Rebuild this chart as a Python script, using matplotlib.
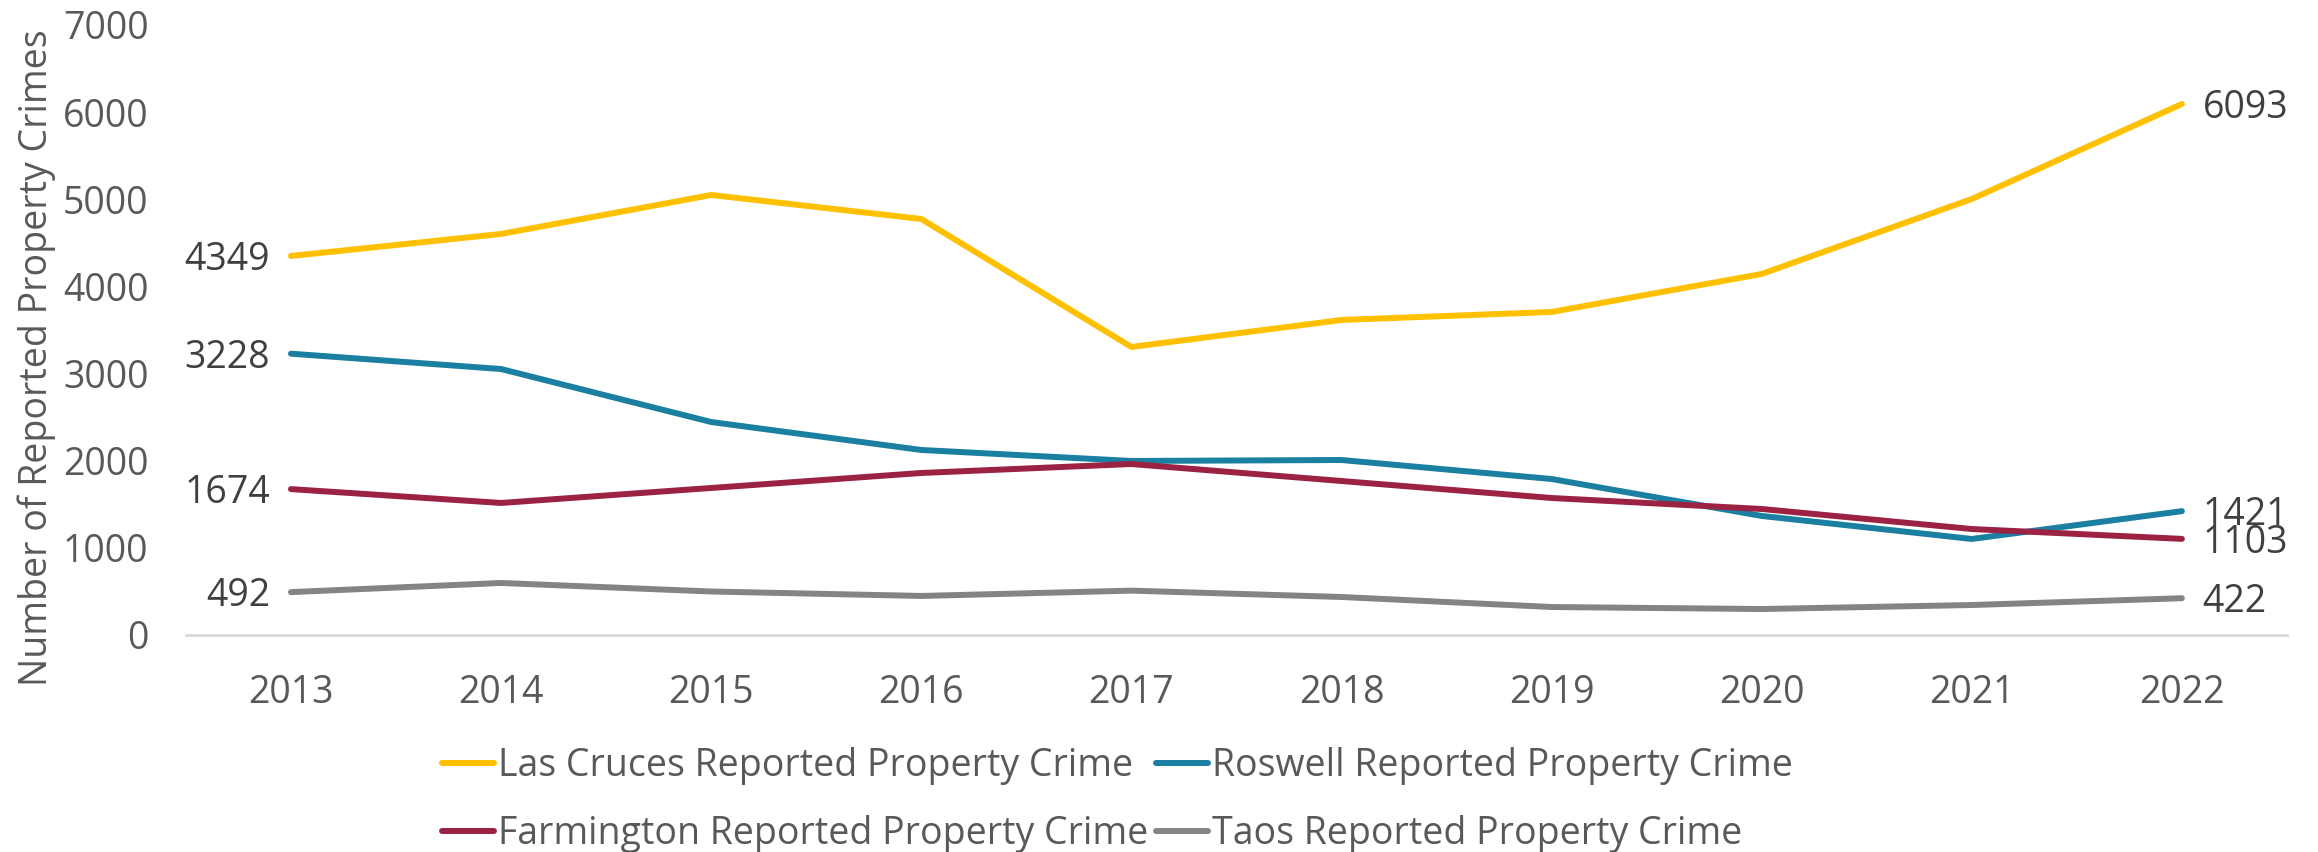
import matplotlib
matplotlib.use("Agg")
import matplotlib.pyplot as plt

plt.rcParams["font.family"] = ["Open Sans", "DejaVu Sans"]

years = ["2013", "2014", "2015", "2016", "2017", "2018", "2019", "2020", "2021", "2022"]
las_cruces = [4349, 4602, 5049, 4774, 3305, 3615, 3707, 4143, 5003, 6093]
roswell = [3228, 3052, 2444, 2123, 1997, 2008, 1790, 1366, 1102, 1421]
farmington = [1674, 1515, 1687, 1859, 1962, 1767, 1572, 1446, 1216, 1103]
taos = [492, 597, 499, 448, 509, 436, 321, 298, 344, 422]

series = [
    ("Las Cruces Reported Property Crime", las_cruces, "#FFC000"),
    ("Roswell Reported Property Crime", roswell, "#1A7FA0"),
    ("Farmington Reported Property Crime", farmington, "#9B2243"),
    ("Taos Reported Property Crime", taos, "#848484"),
]

TICK = "#595959"
LABEL = "#404040"

fig = plt.figure(figsize=(23.18, 8.52), dpi=100)
ax = fig.add_axes([0.0802, 0.2547, 0.9064, 0.716])
x = list(range(len(years)))
lines = []
for name, vals, col in series:
    ln, = ax.plot(x, vals, color=col, lw=4.3, label=name, solid_capstyle="round", solid_joinstyle="round")
    lines.append(ln)
    # end labels: first and last value of each line
    ax.annotate(str(vals[0]), (x[0], vals[0]), xytext=(-15, -3), textcoords="offset points",
                ha="right", va="center", fontsize=27, color=LABEL)
    ax.annotate(str(vals[-1]), (x[-1], vals[-1]), xytext=(15, -3), textcoords="offset points",
                ha="left", va="center", fontsize=27, color=LABEL)

ax.set_xlim(-0.5, len(years) - 0.5)
ax.set_ylim(0, 7000)
ax.set_xticks(x)
ax.set_xticklabels(years)
ax.set_yticks(range(0, 7001, 1000))
ax.tick_params(axis="both", length=0, labelsize=27, labelcolor=TICK)
ax.tick_params(axis="x", pad=28)
ax.tick_params(axis="y", pad=27)
for s in ["top", "right", "left"]:
    ax.spines[s].set_visible(False)
ax.spines["bottom"].set_color("#D9D9D9")
ax.spines["bottom"].set_linewidth(2)
ax.set_ylabel("Number of Reported Property Crimes", fontsize=27, color=TICK)
ax.yaxis.set_label_coords(-0.062, 0.455)

# row-major order like the original: LC, Roswell / Farmington, Taos
order = [0, 2, 1, 3]
leg = fig.legend([lines[i] for i in order], [series[i][0] for i in order],
                 loc="center", bbox_to_anchor=(0.482, 0.061), ncol=2, frameon=False,
                 fontsize=27, handlelength=1.4, handletextpad=0.1, columnspacing=0.2,
                 labelspacing=0.8)
for t in leg.get_texts():
    t.set_color(TICK)

fig.savefig("out.png", dpi=100, facecolor="white")
